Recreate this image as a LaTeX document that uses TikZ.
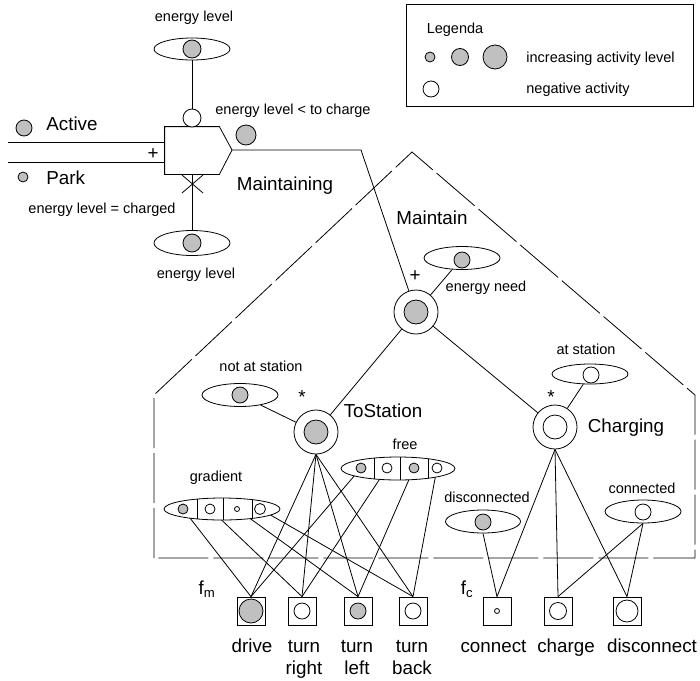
\documentclass[tikz,border=0pt]{standalone}
\usepackage{fontspec}
\setmainfont{Liberation Sans}
\usetikzlibrary{shapes.geometric,backgrounds}
\definecolor{actgray}{RGB}{192,192,192}
\newcommand{\smalltxt}{\fontsize{14.5}{17}\selectfont}
\newcommand{\bigtxt}{\fontsize{18.8}{21.7}\selectfont}

\begin{document}
\begin{tikzpicture}[x=1pt,y=-1pt,line width=0.8pt,
  lab/.style={font=\smalltxt,inner sep=0pt},
  blab/.style={font=\bigtxt,inner sep=0pt,align=center},
  act/.style={circle,draw,fill=actgray,inner sep=0pt,minimum size=#1},
  neg/.style={circle,draw,fill=white,inner sep=0pt,minimum size=#1},
  cond/.style={ellipse,draw,fill=white,inner sep=0pt,minimum width=#1,minimum height=23pt},
  beh/.style={circle,draw,fill=white,inner sep=0pt,minimum size=44pt},
  sqbox/.style={rectangle,draw,fill=white,inner sep=0pt,minimum size=28pt},
  outline/.style={dash pattern=on 50pt off 5pt}]
\useasboundingbox (0,0) rectangle (700,680);

% legend
\node[draw,inner sep=0pt,minimum width=287pt,minimum height=102pt] (legend) at (549.5,55) {};
\node[lab] (legtitle) at (455,30) {Legenda};
\node[act=10pt] (leg1) at (430,57) {};
\node[act=17pt] (leg2) at (460,57) {};
\node[act=24pt] (leg3) at (495,57) {};
\node[lab,anchor=west] (legincr) at (526,59) {increasing activity level};
\node[neg=16pt] (leg4) at (431,89) {};
\node[lab,anchor=west] (legneg) at (526,90) {negative activity};

% Maintaining
\node[inner sep=0pt,minimum width=54pt,minimum height=47pt] (mbox) at (192,150.5) {};
\coordinate (mtip) at (232,150);
\draw (mbox.north west) -- (mbox.north east) -- (mtip) -- (mbox.south east) -- (mbox.south west) -- cycle;
\node[blab] (mlab) at (285,186) {Maintaining};
\node[blab] (plus1) at (153,154) {+};
\coordinate (inA) at (8,142);
\coordinate (inP) at (8,162);
\node[act=16pt] (activec) at (24,128) {};
\node[blab,anchor=west] (activelab) at (46,124) {Active};
\node[act=10pt] (parkc) at (23,177) {};
\node[blab,anchor=west] (parklab) at (46,178) {Park};

\node[cond=76pt,minimum height=22pt] (eltop) at (192,49) {};
\node[act=18pt] (eltopc) at (eltop) {};
\node[lab] (eltoplab) at (194,18) {energy level};
\node[neg=18pt] (elneg) at (192,118) {};
\node[lab] (elless) at (293,110.5) {energy level < to charge};
\node[act=20pt] (ellessc) at (246,135) {};

\node[cond=76pt,minimum height=25pt] (elbot) at (192,243) {};
\node[act=18pt] (elbotc) at (elbot) {};
\node[lab] (eqlab) at (102,210) {energy level = charged};
\node[lab] (elbotlab) at (196,275) {energy level};
\draw (182,175) -- (203,193) (203,175) -- (182,193);

% Maintain
\draw[outline] (154,558) -- (154,395) -- (412,152) -- (695,395) -- (695,558) -- cycle;
\node[blab] (maintlab) at (432,217.5) {Maintain};
\node[beh] (enneed) at (416,312) {};
\node[act=24pt] (enneedc) at (enneed) {};
\node[blab] (plus2) at (415,276) {+};
\node[cond=76pt] (needcond) at (462,258) {};
\node[act=16pt] (needcondc) at (462,260) {};
\node[lab] (needlab) at (486,288) {energy need};
\coordinate (mcorner) at (361,150);

% ToStation
\node[beh] (tost) at (316,432) {};
\node[act=24pt] (tostc) at (tost) {};
\node[blab] (tostlab) at (383,411) {ToStation};
\node[blab] (star1) at (302,397) {*};
\node[cond=76pt] (notst) at (240,395) {};
\node[act=16pt] (notstc) at (240,395) {};
\node[lab] (notstlab) at (261,366) {not at station};

% Charging
\node[beh] (charging) at (555,427) {};
\node[neg=24pt] (chargingc) at (charging) {};
\node[blab] (charginglab) at (626,428) {Charging};
\node[blab] (star2) at (551,397) {*};
\node[cond=76pt,minimum height=20pt] (atst) at (590,374) {};
\node[neg=16pt] (atstc) at (591,375) {};
\node[lab] (atstlab) at (586,349) {at station};

% free
\node[cond=114pt] (free) at (398,468.5) {};
\begin{scope}
\clip (398,468.5) ellipse [x radius=57pt,y radius=11.5pt];
\draw (374,450) -- (374,490) (400,450) -- (400,490) (428,450) -- (428,490);
\end{scope}
\node[act=10pt] (free1) at (361,468) {};
\node[neg=10pt] (free2) at (387,468) {};
\node[act=10pt] (free3) at (414,468) {};
\node[neg=10pt] (free4) at (437,468) {};
\node[lab] (freelab) at (405,444) {free};

% gradient
\node[cond=116pt,minimum height=22pt] (grad) at (222,509) {};
\begin{scope}
\clip (222,509) ellipse [x radius=58pt,y radius=11pt];
\draw (197,490) -- (197,530) (223,490) -- (223,530) (252,490) -- (252,530);
\end{scope}
\node[act=10pt] (grad1) at (183,509) {};
\node[neg=10pt] (grad2) at (210,509) {};
\node[neg=5pt] (grad3) at (237,509) {};
\node[neg=11pt] (grad4) at (260,509) {};
\node[lab] (gradlab) at (216,478) {gradient};

% (dis)connected
\node[cond=75pt] (discond) at (483,521.5) {};
\node[act=16pt] (discondc) at (483,522) {};
\node[lab] (disclab) at (487,497) {disconnected};
\node[cond=76pt] (concond) at (643,511.5) {};
\node[neg=16pt] (concondc) at (643,512) {};
\node[lab] (conlab) at (642,488) {connected};

% actions
\node[blab] (fm) at (207,589) {f\textsubscript{m}};
\node[blab] (fc) at (467,589) {f\textsubscript{c}};
\node[sqbox] (drive) at (251,611) {};
\node[act=24pt] (drivec) at (drive) {};
\node[sqbox] (tright) at (302,611) {};
\node[neg=16pt] (trightc) at (tright) {};
\node[sqbox] (tleft) at (358,611) {};
\node[act=16pt] (tleftc) at (tleft) {};
\node[sqbox] (tback) at (413,611) {};
\node[neg=16pt] (tbackc) at (tback) {};
\node[sqbox] (connect) at (497,611) {};
\node[neg=5pt] (connectc) at (connect) {};
\node[sqbox] (charge) at (558,611) {};
\node[neg=17pt] (chargec) at (charge) {};
\node[sqbox] (disconnect) at (627,611) {};
\node[neg=22pt] (disconnectc) at (disconnect) {};
\node[blab,anchor=base] (drivelab) at (252,652) {drive};
\node[blab,anchor=base] (trightlab) at (304,674) {turn\\right};
\node[blab,anchor=base] (tleftlab) at (357,674) {turn\\left};
\node[blab,anchor=base] (tbacklab) at (412,674) {turn\\back};
\node[blab,anchor=base] (connectlab) at (493.5,652) {connect};
\node[blab,anchor=base] (chargelab) at (566,652) {charge};
\node[blab,anchor=base] (disconnectlab) at (652,652) {disconnect};

\begin{pgfonlayer}{background}
\begin{scope}[line width=0.8pt]
\draw (inA) -- (inA -| mbox.west);
\draw (inP) -- (inP -| mbox.west);
\draw (eltop) -- (elneg);
\draw (mbox.south) -- (elbot);
\draw (mtip) -- (mcorner) -- (enneed);
\draw (enneed) -- (needcond);
\draw (enneed) -- (tost);
\draw (enneed) -- (charging);
\draw (notst) -- (tost);
\draw (atst) -- (charging);
\foreach \act in {drive,tright,tleft,tback}
  \draw (tost.south) -- (\act.north);
\foreach \act in {connect,charge,disconnect}
  \draw (charging.south) -- (\act.north);
\draw (grad1) -- (drive.north);
\draw (grad2) -- (tright.north);
\draw (grad3) -- (tleft.north);
\draw (grad4) -- (tback.north);
\draw (free1) -- (drive.north);
\draw (free2) -- (tright.north);
\draw (free3) -- (tleft.north);
\draw (free4) -- (tback.north);
\draw (discond.south) -- (connect.north);
\draw (concond.south) -- (charge.north);
\draw (concond.south) -- (disconnect.north);
\end{scope}
\end{pgfonlayer}
\end{tikzpicture}
\end{document}
